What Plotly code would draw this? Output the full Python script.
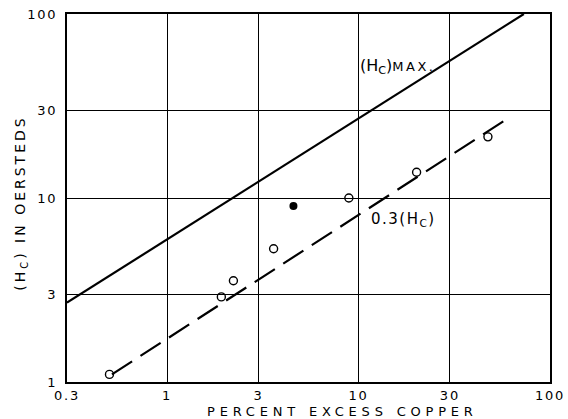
import numpy as np
import plotly.graph_objects as go

# measured points (percent excess copper, Hc in oersteds)
open_x = [0.5, 1.92, 2.22, 3.6, 8.9, 20.1, 47.4]
open_y = [1.1, 2.9, 3.55, 5.3, 10.0, 13.8, 21.5]
filled_x = [4.57]
filled_y = [9.05]

# (Hc)max line and 0.3(Hc) line, end points
max_x = [0.3, 73]
max_y = [2.7, 100]
low_x = [0.515, 60]
low_y = [1.1, 27.0]

x_ticks = [0.3, 1, 3, 10, 30, 100]
y_ticks = [1, 3, 10, 30, 100]

font = "DejaVu Sans"


def spaced(s, px):
    return "<span style='letter-spacing:%spx'>%s</span>" % (px, s)


fig = go.Figure()
fig.add_trace(go.Scatter(x=max_x, y=max_y, mode="lines",
                         line=dict(color="black", width=2.2)))
fig.add_trace(go.Scatter(x=low_x, y=low_y, mode="lines",
                         line=dict(color="black", width=2.2, dash="24px,10px")))
fig.add_trace(go.Scatter(x=open_x, y=open_y, mode="markers",
                         marker=dict(symbol="circle-open", size=8, color="black",
                                     line=dict(width=1.4))))
fig.add_trace(go.Scatter(x=filled_x, y=filled_y, mode="markers",
                         marker=dict(symbol="circle", size=8, color="black")))

fig.add_annotation(x=np.log10(9.9), y=np.log10(52), xanchor="left", yanchor="middle",
                   text="(H<sub>C</sub>)<span style='font-size:13px;letter-spacing:2.5px'>MAX.</span>",
                   showarrow=False, font=dict(family=font, size=16, color="black"))
fig.add_annotation(x=np.log10(11.4), y=np.log10(7.6), xanchor="left", yanchor="middle",
                   text=spaced("0.3(H<sub>C</sub>)", 1.5),
                   showarrow=False, font=dict(family=font, size=15, color="black"))

# axis titles as annotations (placed off-centre like the original)
fig.add_annotation(x=0.571, y=-0.080, xref="paper", yref="paper",
                   xanchor="center", yanchor="middle", showarrow=False,
                   text=spaced("PERCENT EXCESS COPPER", 4.8),
                   font=dict(family=font, size=13, color="black"))
fig.add_annotation(x=-0.097, y=0.485, xref="paper", yref="paper",
                   xanchor="center", yanchor="middle", showarrow=False, textangle=-90,
                   text=spaced("(H<sub>C</sub>) IN OERSTEDS", 3),
                   font=dict(family=font, size=14, color="black"))

axis_common = dict(type="log", showgrid=True, gridcolor="black", gridwidth=1,
                   showline=True, linecolor="black", linewidth=2, mirror=True,
                   ticks="", zeroline=False, automargin=False,
                   tickfont=dict(family=font, size=13, color="black"))

fig.update_xaxes(range=[np.log10(0.3), 2], tickvals=x_ticks,
                 ticktext=[spaced(v, 1.8) for v in x_ticks],
                 **axis_common)
fig.update_yaxes(range=[0, 2], tickvals=y_ticks,
                 ticktext=[spaced(v, 1.8) for v in y_ticks],
                 ticklabelstandoff=5,
                 **axis_common)

fig.update_layout(width=568, height=419, showlegend=False,
                  margin=dict(l=67, r=18, t=14, b=37, autoexpand=False),
                  paper_bgcolor="white", plot_bgcolor="white")

# page body has an 8px default margin; drop it so the figure sits at 0,0
fig.write_html("out.html", config={"displayModeBar": False},
               post_script="document.body.style.margin='0';")
